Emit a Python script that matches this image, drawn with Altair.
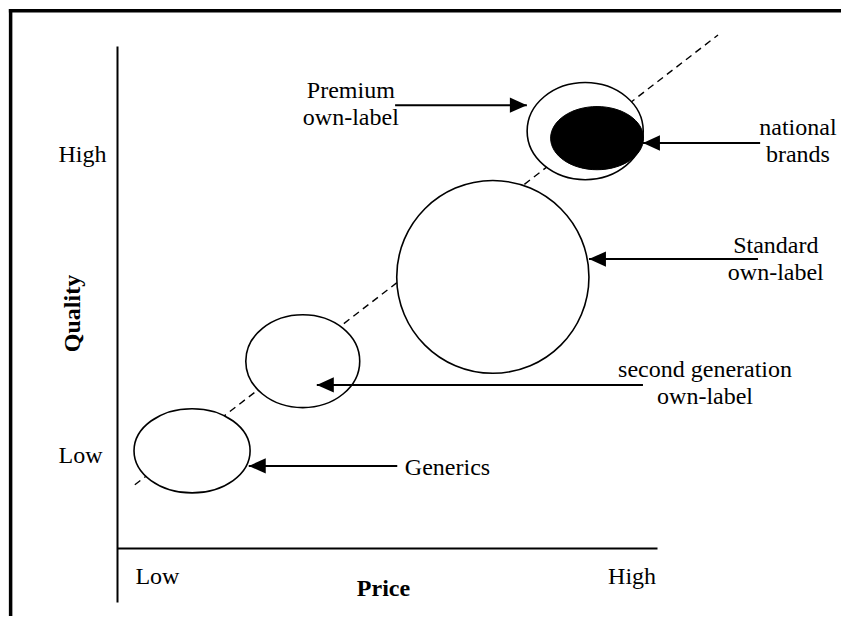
import altair as alt
import pandas as pd

# ---------------- data (price / quality units, same length per unit on both axes)
seg_names   = ["Generics", "second generation own-label", "Standard own-label",
               "Premium own-label", "national brands"]
seg_price   = [1.39, 3.44, 6.96, 8.67, 8.89]
seg_quality = [1.80, 3.46, 5.02, 7.72, 7.59]
seg_width   = [2.15, 2.11, 3.56, 2.15, 1.72]
seg_height  = [1.56, 1.72, 3.57, 1.80, 1.17]
seg_dark    = [False, False, False, False, True]

label_text    = ["Generics", "second generation\nown-label", "Standard\nown-label",
                 "Premium\nown-label", "national\nbrands"]
label_price   = [6.12, 10.89, 12.20, 4.33, 12.61]
label_quality = [1.35, 3.17, 5.46, 8.33, 7.65]

arrow_from    = [5.19, 9.74, 11.87, 5.15, 11.91]
arrow_to      = [2.44, 3.70, 8.74, 7.59, 9.74]
arrow_quality = [1.52, 3.02, 5.35, 8.20, 7.50]

trend_price   = [0.33, 11.13]
trend_quality = [1.17, 9.50]

x_tick_values = [0.74, 9.53]
x_tick_labels = ["Low", "High"]
y_tick_values = [1.59, 7.15]
y_tick_labels = ["Low", "High"]

frame_x  = [-1.97, -1.97]
frame_y  = [9.95, 9.95]
frame_x2 = [13.6, -1.97]
frame_y2 = [9.95, -1.5]

# ---------------- layout / style
UNIT = 54            # px per unit
PLOT_W, PLOT_H = 540, 556
Y_MIN = -1.0
Y_MAX = Y_MIN + PLOT_H / UNIT
FONT = "Liberation Serif"

X_SCALE = alt.Scale(domain=[0, PLOT_W / UNIT], nice=False, zero=False)
Y_SCALE = alt.Scale(domain=[Y_MIN, Y_MAX], nice=False, zero=False)


def tick_expr(vals, labs):
    expr = "''"
    for v, t in reversed(list(zip(vals, labs))):
        expr = f"datum.value == {v} ? '{t}' : " + expr
    return expr


x_axis = alt.Axis(title="Price", values=x_tick_values,
                  labelExpr=tick_expr(x_tick_values, x_tick_labels),
                  offset=-(0 - Y_MIN) * UNIT, grid=False, ticks=False, tickSize=0,
                  labelFlush=False, labelPadding=35, labelBaseline="alphabetic",
                  labelAlign="center",
                  titleX=266, titleY=47, titleAlign="center", titleBaseline="alphabetic")
y_axis = alt.Axis(title="Quality", values=y_tick_values,
                  labelExpr=tick_expr(y_tick_values, y_tick_labels),
                  grid=False, ticks=False, tickSize=0, labelFlush=False,
                  labelAlign="left", labelPadding=59, labelBaseline="alphabetic",
                  titleAngle=270, titleX=-38, titleY=267, titleAlign="center",
                  titleBaseline="alphabetic")


def X(f):
    return alt.X(f, type="quantitative", scale=X_SCALE, axis=x_axis)


def Y(f):
    return alt.Y(f, type="quantitative", scale=Y_SCALE, axis=y_axis)


def ellipse_path(w, h):
    a = round(h / w, 4)
    return f"M -1 0 A 1 {a} 0 1 1 1 0 A 1 {a} 0 1 1 -1 0 Z"


seg = pd.DataFrame({
    "name": seg_names, "price": seg_price, "quality": seg_quality,
    "w": seg_width, "h": seg_height, "dark": seg_dark,
})
seg["path"] = [ellipse_path(w, h) for w, h in zip(seg_width, seg_height)]

arrows = pd.DataFrame({"price": arrow_from, "price2": arrow_to, "quality": arrow_quality})
arrows["path"] = ["M 0 0 L -1 -0.45 L -1 0.45 Z" if t > f else "M 0 0 L 1 -0.45 L 1 0.45 Z"
                  for f, t in zip(arrow_from, arrow_to)]

labels = pd.DataFrame({"price": label_price, "quality": label_quality, "text": label_text})
trend = pd.DataFrame({"price": [trend_price[0]], "quality": [trend_quality[0]],
                      "price2": [trend_price[1]], "quality2": [trend_quality[1]]})
frame = pd.DataFrame({"price": frame_x, "quality": frame_y,
                      "price2": frame_x2, "quality2": frame_y2})

SIZE = alt.Size("w:Q", scale=alt.Scale(type="pow", exponent=2, domain=[0, PLOT_W / UNIT],
                                       range=[0, PLOT_W ** 2]), legend=None)

frame_layer = alt.Chart(frame).mark_rule(color="black", strokeWidth=3.5, strokeCap="square").encode(
    x=X("price"), y=Y("quality"), x2="price2", y2="quality2")

trend_layer = alt.Chart(trend).mark_rule(color="black", strokeWidth=1.4, strokeDash=[7, 5]).encode(
    x=X("price"), y=Y("quality"), x2="price2", y2="quality2")

light = alt.Chart(seg).transform_filter("!datum.dark").mark_point(
    filled=True, fill="white", stroke="black", strokeWidth=1.6, opacity=1).encode(
    x=X("price"), y=Y("quality"), shape=alt.Shape("path:N", scale=None), size=SIZE)

dark = alt.Chart(seg).transform_filter("datum.dark").mark_point(
    filled=True, fill="black", stroke="black", strokeWidth=1.0, opacity=1).encode(
    x=X("price"), y=Y("quality"), shape=alt.Shape("path:N", scale=None), size=SIZE)

arrow_lines = alt.Chart(arrows).mark_rule(color="black", strokeWidth=2).encode(
    x=X("price"), x2="price2", y=Y("quality"))

arrow_heads = alt.Chart(arrows).mark_point(filled=True, fill="black", opacity=1, strokeWidth=0).encode(
    x=X("price2"), y=Y("quality"), shape=alt.Shape("path:N", scale=None), size=alt.value(1156))

text_layer = alt.Chart(labels).mark_text(
    font=FONT, fontSize=24, color="black", align="center", baseline="alphabetic",
    lineBreak="\n", lineHeight=27).encode(
    x=X("price"), y=Y("quality"), text="text:N")

chart = alt.layer(frame_layer, trend_layer, light, dark, arrow_lines, arrow_heads, text_layer).properties(
    width=PLOT_W, height=PLOT_H,
    padding={"left": 109, "top": 38, "right": 184, "bottom": 14},
    autosize=alt.AutoSizeParams(type="none"),
    background="white",
).configure_view(stroke=None).configure_axis(
    domainColor="black", domainWidth=2,
    labelFont=FONT, labelFontSize=24, labelColor="black",
    titleFont=FONT, titleFontSize=24, titleFontWeight="bold", titleColor="black",
)

chart.save("out.html", embed_options={"renderer": "svg", "actions": False})
